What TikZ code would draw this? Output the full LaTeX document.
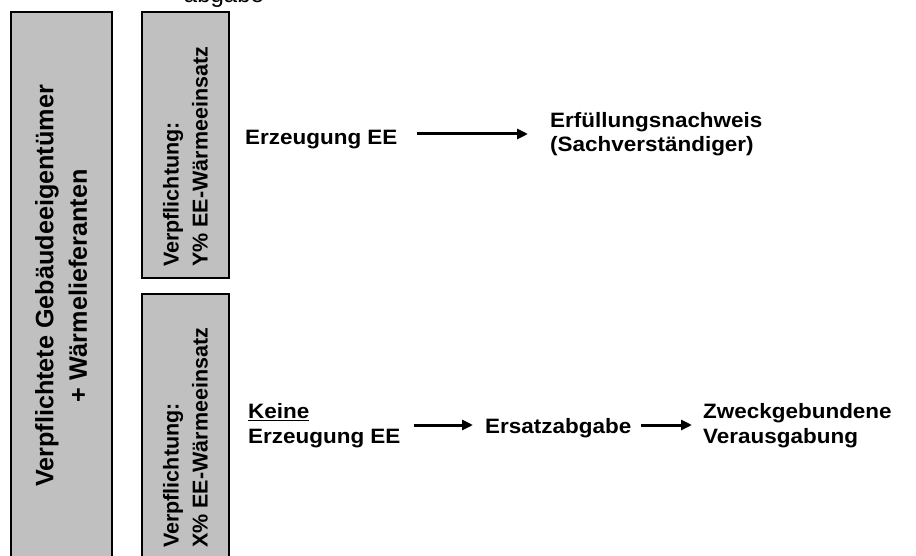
\documentclass[tikz,border=0pt]{standalone}
\usepackage{fontspec}
\setmainfont{Liberation Sans}
\newfontfamily\hfont[FakeStretch=1.08]{Liberation Sans}
\usetikzlibrary{arrows.meta}
\definecolor{boxgray}{HTML}{C0C0C0}
\tikzset{
  graybox/.style={draw=black, line width=1.5pt, fill=boxgray},
  bigtxt/.style={rotate=90, inner sep=0pt, align=center, font=\bfseries\fontsize{25.2}{33.5}\selectfont},
  smalltxt/.style={rotate=90, inner sep=0pt, align=left, anchor=west, font=\bfseries\fontsize{21.5}{29}\selectfont},
  htxt/.style={inner sep=0pt, align=left, anchor=base west, font=\hfont\bfseries\fontsize{20.8}{24.5}\selectfont},
  arr/.style={line width=3pt, -{Triangle[length=11pt,width=10pt]}}
}
\begin{document}
\begin{tikzpicture}[x=1pt,y=-1pt]
\useasboundingbox (0,0) rectangle (916,556);
\clip (0,0) rectangle (916,556);
% boxes
\path[graybox] (11,12) rectangle (112,570);
\path[graybox] (142,12) rectangle (229,278);
\path[graybox] (142,294) rectangle (229,570);
% top partially visible text
\node[inner sep=0pt, anchor=base, font=\fontsize{24}{28}\selectfont] (ab) at (224,3) {abgabe};
% rotated texts
\node[bigtxt] (own) at (61,286) {Verpflichtete Gebäudeeigentümer\\+ Wärmelieferanten};
\node[smalltxt] (yb) at (185.5,267) {Verpflichtung:\\Y\% EE-Wärmeeinsatz};
\node[smalltxt] (xb) at (185.5,548) {Verpflichtung:\\X\% EE-Wärmeeinsatz};
% upper row (base anchor = last line)
\node[htxt] (e1) at (245,145) {Erzeugung EE};
\node[htxt] (n1) at (550,152) {Erfüllungsnachweis\\(Sachverständiger)};
\draw[arr, shorten <=19pt, shorten >=22pt] (e1.east |- 0,134) -- (n1.west |- 0,134);
% lower row
\node[htxt] (kn) at (248,443) {\underline{Keine}\\Erzeugung EE};
\node[htxt] (ea) at (485,433) {Ersatzabgabe};
\node[htxt] (zw) at (703,443) {Zweckgebundene\\Verausgabung};
\draw[arr, shorten <=13pt, shorten >=12pt] (kn.east |- 0,425) -- (ea.west |- 0,425);
\draw[arr, shorten <=10pt, shorten >=11pt] (ea.east |- 0,425) -- (zw.west |- 0,425);
\end{tikzpicture}
\end{document}
